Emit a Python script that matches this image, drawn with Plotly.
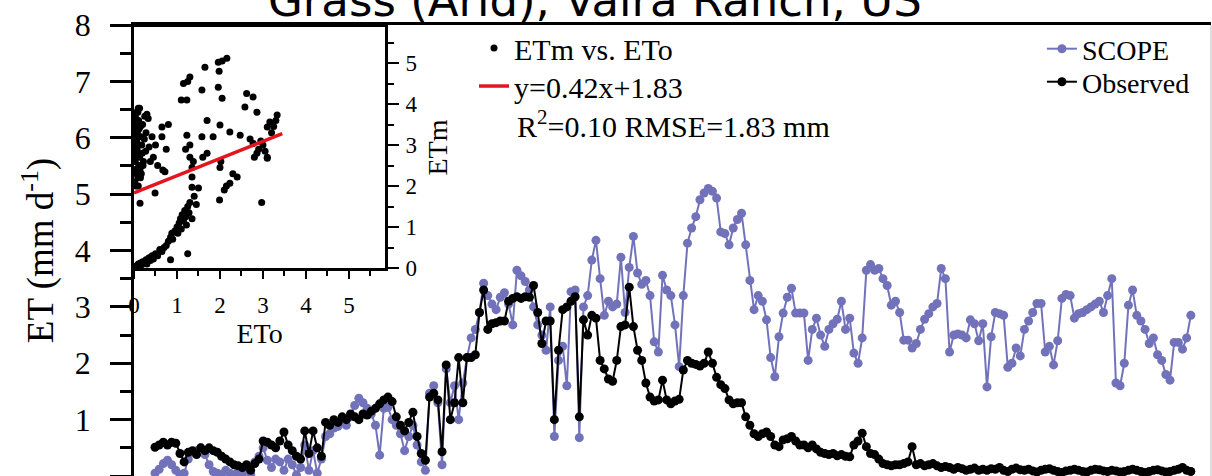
import plotly.graph_objects as go

# ---------------- data ----------------
days = list(range(1, 251))

observed = [
    0.51, 0.55, 0.60, 0.55, 0.60, 0.58, 0.40, 0.25, 0.42, 0.45,
    0.38, 0.50, 0.45, 0.50, 0.45, 0.42, 0.35, 0.30, 0.25, 0.20,
    0.18, 0.15, 0.20, 0.10, 0.22, 0.30, 0.62, 0.60, 0.55, 0.50,
    0.62, 0.78, 0.55, 0.45, 0.35, 0.30, 0.80, 0.40, 0.80, 0.50,
    0.35, 0.95, 0.90, 1.00, 0.95, 1.05, 1.00, 1.10, 1.05, 1.00,
    1.10, 1.08, 1.15, 1.20, 1.28, 1.35, 1.40, 1.32, 1.05, 0.90,
    0.80, 0.95, 1.13, 0.70, 0.40, 0.28, 1.40, 1.47, 1.35, 0.43,
    1.97, 1.00, 1.30, 2.10, 1.30, 2.10, 2.10, 2.15, 2.90, 3.30,
    2.60, 2.70, 2.72, 2.75, 2.75, 3.10, 3.15, 3.18, 3.15, 3.18,
    3.17, 3.38, 2.90, 2.35, 2.75, 2.75, 1.00, 2.23, 2.95, 3.00,
    3.10, 3.18, 1.05, 2.77, 2.50, 2.85, 2.80, 2.05, 1.90, 1.72,
    1.68, 2.05, 2.65, 2.68, 3.35, 2.65, 2.23, 2.05, 1.65, 1.40,
    1.33, 1.35, 1.70, 1.35, 1.28, 1.33, 1.36, 1.88, 2.05, 2.00,
    1.98, 1.95, 2.00, 2.20, 2.00, 1.75, 1.62, 1.55, 1.35, 1.28,
    1.30, 1.30, 1.05, 0.90, 0.75, 0.70, 0.75, 0.78, 0.70, 0.55,
    0.52, 0.64, 0.66, 0.70, 0.62, 0.55, 0.55, 0.50, 0.55, 0.48,
    0.42, 0.40, 0.38, 0.40, 0.36, 0.38, 0.35, 0.34, 0.55, 0.62,
    0.76, 0.52, 0.40, 0.38, 0.30, 0.22, 0.20, 0.18, 0.20, 0.20,
    0.22, 0.25, 0.52, 0.20, 0.22, 0.18, 0.20, 0.22, 0.18, 0.15,
    0.17, 0.15, 0.12, 0.15, 0.13, 0.10, 0.12, 0.14, 0.10, 0.12,
    0.10, 0.13, 0.12, 0.15, 0.10, 0.08, 0.12, 0.14, 0.11, 0.10,
    0.12, 0.09, 0.07, 0.10, 0.12, 0.13, 0.10, 0.08, 0.06, 0.09,
    0.10, 0.12, 0.10, 0.08, 0.07, 0.10, 0.12, 0.11, 0.09, 0.08,
    0.10, 0.09, 0.07, 0.08, 0.10, 0.12, 0.10, 0.08, 0.06, 0.08,
    0.10, 0.11, 0.09, 0.07, 0.08, 0.10, 0.12, 0.15, 0.10, 0.08,
]

scope = [
    0.05, 0.12, 0.22, 0.28, 0.20, 0.10, 0.02, 0.05, 0.30, 0.42,
    0.45, 0.50, 0.38, 0.20, 0.08, 0.05, 0.03, 0.10, 0.05, 0.02,
    0.08, 0.05, 0.12, 0.03, 0.25, 0.35, 0.50, 0.28, 0.15, 0.30,
    0.25, 0.10, 0.30, 0.20, 0.02, 0.15, 0.55, 0.10, 0.45, 0.05,
    0.30, 0.70, 0.75, 0.85, 0.88, 0.95, 0.90, 1.05, 1.25, 1.38,
    1.30, 1.20, 1.10, 0.90, 0.37, 1.20, 1.22, 1.00, 0.90, 0.75,
    0.45, 0.70, 0.90, 0.55, 0.25, 0.10, 1.47, 1.60, 1.30, 0.20,
    1.90, 1.30, 1.60, 1.00, 1.65, 2.10, 2.45, 2.60, 2.90, 3.42,
    3.20, 3.05, 2.95, 3.17, 3.25, 3.05, 2.68, 3.65, 3.55, 3.45,
    3.30, 3.00, 2.68, 2.50, 2.23, 3.00, 0.70, 2.05, 2.30, 1.60,
    3.27, 3.30, 0.68, 3.00, 3.20, 3.83, 4.18, 3.50, 2.85, 3.10,
    3.00, 3.05, 3.88, 2.90, 3.70, 4.25, 3.60, 3.40, 3.47, 3.20,
    2.38, 2.20, 3.56, 3.30, 3.20, 2.68, 1.94, 3.20, 4.13, 4.40,
    4.60, 4.90, 5.02, 5.10, 5.05, 4.93, 4.33, 4.30, 4.10, 4.40,
    4.55, 4.66, 4.10, 3.47, 2.95, 3.20, 3.10, 2.77, 2.10, 1.76,
    2.47, 2.89, 3.17, 3.33, 2.89, 2.89, 2.89, 2.05, 2.60, 2.80,
    2.50, 2.30, 2.60, 2.70, 2.78, 3.10, 2.60, 2.80, 2.18, 2.00,
    2.45, 3.65, 3.75, 3.65, 3.68, 3.50, 3.38, 3.03, 3.10, 2.90,
    2.41, 2.41, 2.27, 2.35, 2.60, 2.78, 2.88, 3.00, 3.06, 3.68,
    3.50, 2.20, 2.50, 2.52, 2.50, 2.45, 2.77, 2.70, 2.40, 2.70,
    1.58, 2.47, 2.90, 2.88, 2.85, 1.93, 2.00, 2.27, 2.13, 2.60,
    2.75, 2.90, 3.06, 3.06, 2.20, 2.30, 1.97, 2.40, 3.15, 3.22,
    3.20, 2.80, 2.88, 2.90, 2.95, 3.00, 3.05, 3.10, 2.90, 3.20,
    3.50, 1.65, 1.60, 2.00, 3.03, 3.30, 2.85, 2.75, 2.60, 2.35,
    2.45, 2.15, 2.05, 1.80, 1.70, 2.37, 2.37, 2.25, 2.45, 2.85,
]

# inset scatter: ETo (x) vs ETm (y)
eto = [
    0.02, 0.03, 0.05, 0.04, 0.06, 0.08, 0.03, 0.10, 0.05, 0.07,
    0.12, 0.04, 0.09, 0.15, 0.06, 0.11, 0.02, 0.13, 0.08, 0.18,
    0.05, 0.10, 0.14, 0.20, 0.07, 0.16, 0.03, 0.22, 0.09, 0.12,
    0.25, 0.06, 0.19, 0.28, 0.11, 0.30, 0.04, 0.17, 0.35, 0.08,
    0.24, 0.13, 0.38, 0.21, 0.05, 0.27, 0.15, 0.33, 0.10, 0.42,
    0.02, 0.05, 0.08, 0.10, 0.12, 0.15, 0.18, 0.20, 0.25, 0.28,
    0.30, 0.35, 0.38, 0.42, 0.45, 0.50, 0.55, 0.60, 0.65, 0.70,
    0.75, 0.80, 0.85, 0.88, 0.90, 0.95, 1.00, 1.02, 1.05, 1.08,
    1.10, 1.12, 1.15, 1.18, 1.20, 1.22, 1.25, 1.28, 1.30, 1.35,
    1.40, 1.45, 1.50, 0.85, 1.25,
    1.10, 1.15, 1.23, 1.30, 1.25, 1.65, 1.58, 1.96, 1.98, 2.16,
    2.05, 1.96, 2.05, 2.62, 2.77, 2.58, 2.86, 1.70, 2.00, 2.23,
    1.23, 1.58, 1.84, 2.47, 2.70, 3.10, 3.33, 3.30, 3.16, 3.20,
    3.25, 1.30, 1.70, 0.65, 0.80, 0.65, 2.86, 3.10, 2.77, 1.35,
    1.35, 0.49, 0.14, 0.67, 0.72, 1.60, 2.00, 2.02, 2.23, 2.40,
    2.80, 3.10, 1.99, 2.97, 2.10, 2.30, 2.15, 1.35, 1.38, 2.90,
    3.00, 3.05, 2.95, 0.55, 0.45, 0.50, 0.75, 1.20, 1.30,
]
etm = [
    2.10, 2.60, 3.00, 3.40, 2.30, 2.80, 3.70, 2.00, 3.20, 3.50,
    2.50, 2.90, 3.80, 2.20, 3.10, 3.60, 2.40, 2.70, 3.30, 3.00,
    2.00, 3.90, 2.40, 3.50, 2.90, 3.20, 3.60, 2.60, 2.20, 3.40,
    3.70, 3.80, 2.80, 3.30, 3.00, 3.75, 2.70, 2.30, 2.95, 3.55,
    3.15, 3.90, 2.60, 2.50, 3.10, 2.85, 3.45, 3.65, 2.45, 3.20,
    0.00, 0.05, 0.02, 0.10, 0.05, 0.12, 0.08, 0.15, 0.12, 0.20,
    0.10, 0.25, 0.18, 0.30, 0.22, 0.35, 0.30, 0.45, 0.40, 0.50,
    0.55, 0.65, 0.75, 0.85, 0.70, 0.90, 1.00, 0.85, 1.10, 1.20,
    0.95, 1.30, 1.15, 1.40, 1.25, 1.05, 1.50, 1.35, 1.60, 1.20,
    1.75, 1.55, 1.95, 0.20, 0.35,
    4.10, 4.50, 4.10, 4.66, 4.55, 4.90, 4.34, 5.02, 4.80, 5.12,
    5.05, 4.41, 4.14, 4.26, 4.17, 3.93, 3.80, 3.60, 3.49, 3.32,
    3.24, 3.20, 3.20, 3.24, 3.15, 3.44, 3.73, 3.60, 3.56, 3.30,
    3.45, 2.70, 2.80, 3.44, 3.50, 3.20, 2.80, 2.70, 3.04, 2.22,
    1.97, 1.83, 1.58, 2.39, 2.35, 2.70, 2.45, 2.60, 2.07, 2.22,
    2.70, 2.68, 1.66, 1.60, 1.90, 2.30, 2.00, 2.45, 2.60, 2.90,
    3.00, 2.85, 3.10, 2.50, 2.70, 3.00, 2.90, 2.90, 3.00,
]

slope = 0.42
intercept = 1.83
fit_x = [0.0, 3.45]
fit_y = [slope * v + intercept for v in fit_x]

SERIF = "Liberation Serif, Tinos, Times New Roman, Times, DejaVu Serif, serif"
BLUE = "#7272bb"

fig = go.Figure()
fig.add_trace(go.Scatter(
    x=days, y=scope, mode="lines+markers", name="SCOPE",
    line=dict(color=BLUE, width=2), marker=dict(size=9, color=BLUE),
    legend="legend", showlegend=True))
fig.add_trace(go.Scatter(
    x=days, y=observed, mode="lines+markers", name="Observed",
    line=dict(color="black", width=2), marker=dict(size=9, color="black"),
    legend="legend3", showlegend=True))
fig.add_trace(go.Scatter(
    x=eto, y=etm, mode="markers", name="ETm vs. ETo",
    marker=dict(size=7, color="black"), xaxis="x2", yaxis="y2",
    legend="legend2", showlegend=True))
fig.add_trace(go.Scatter(
    x=fit_x, y=fit_y, mode="lines", name="y=0.42x+1.83",
    line=dict(color="#e3161e", width=3.5), xaxis="x2", yaxis="y2",
    legend="legend4", showlegend=True))


def leg(x, y, size):
    return dict(x=x, xanchor="left", y=y, yanchor="middle",
                font=dict(family=SERIF, size=size, color="black"),
                bgcolor="rgba(0,0,0,0)", borderwidth=0, tracegroupgap=0,
                visible=True)


fig.update_layout(
    width=1212, height=476, showlegend=True,
    margin=dict(l=134, r=1, t=25, b=0, pad=0),
    paper_bgcolor="white", plot_bgcolor="white",
    font=dict(family=SERIF, color="black"),
    xaxis=dict(domain=[0, 1], range=[-4.05, 254.85], showline=True,
               linecolor="black", linewidth=2.5, mirror=True,
               showgrid=False, zeroline=False, ticks="",
               showticklabels=False, automargin=False),
    yaxis=dict(range=[0, 8], tick0=0, dtick=1, ticks="outside", ticklen=21,
               tickwidth=2.5, tickcolor="black", showline=True,
               linecolor="black", linewidth=2.5, showgrid=False,
               zeroline=False, automargin=False,
               minor=dict(dtick=0.5, ticks="outside", ticklen=11,
                          tickwidth=2.5, tickcolor="black"),
               tickfont=dict(family=SERIF, size=32, color="black"),
               ticklabelstandoff=13,
               title=dict(text="ET (mm d<sup>-1</sup>)",
                          font=dict(family=SERIF, size=37, color="black"),
                          standoff=10)),
    xaxis2=dict(domain=[0, 0.2331], anchor="y2", range=[0, 5.84],
                tick0=0, dtick=1, ticks="outside", ticklen=8, tickwidth=2,
                tickcolor="black", showline=True, linecolor="black",
                linewidth=2.5, mirror=True, showgrid=False, zeroline=False,
                automargin=False,
                minor=dict(dtick=0.5, ticks="outside", ticklen=5,
                           tickwidth=2, tickcolor="black"),
                tickfont=dict(family=SERIF, size=23, color="black"),
                ticklabelstandoff=7,
                title=dict(text="ETo", font=dict(family=SERIF, size=28,
                                                 color="black"),
                           standoff=4)),
    yaxis2=dict(domain=[0.4612, 0.9956], anchor="x2", side="right",
                range=[0, 5.88], tick0=0, dtick=1, ticks="outside",
                ticklen=11, tickwidth=2, tickcolor="black", showline=True,
                linecolor="black", linewidth=2.5, mirror=True,
                showgrid=False, zeroline=False, automargin=False,
                minor=dict(dtick=0.5, ticks="outside", ticklen=6,
                           tickwidth=2, tickcolor="black"),
                tickfont=dict(family=SERIF, size=23, color="black"),
                ticklabelstandoff=2,
                title=dict(text="ETm", font=dict(family=SERIF, size=28,
                                                 color="black"),
                           standoff=12)),
    legend=leg(0.843, 0.9468, 28),
    legend3=leg(0.843, 0.8736, 28),
    legend2=leg(0.3157, 0.9490, 30),
    legend4=leg(0.3157, 0.8647, 30),
    annotations=[
        dict(text="Grass (Arid), Vaira Ranch, US", xref="paper",
             yref="paper", x=0.428, y=1.0554, xanchor="center",
             yanchor="middle", showarrow=False,
             font=dict(family="DejaVu Sans", size=45, color="black")),
        dict(text="R<sup>2</sup>=0.10 RMSE=1.83 mm", xref="paper",
             yref="paper", x=0.3535, y=0.7805, xanchor="left",
             yanchor="middle", showarrow=False,
             font=dict(family=SERIF, size=30, color="black")),
    ],
    shapes=[dict(type="line", xref="paper", yref="paper", x0=1, x1=1,
                 y0=0, y1=1, line=dict(color="#bbbbbb", width=1))],
)

fig.write_html("out.html")
